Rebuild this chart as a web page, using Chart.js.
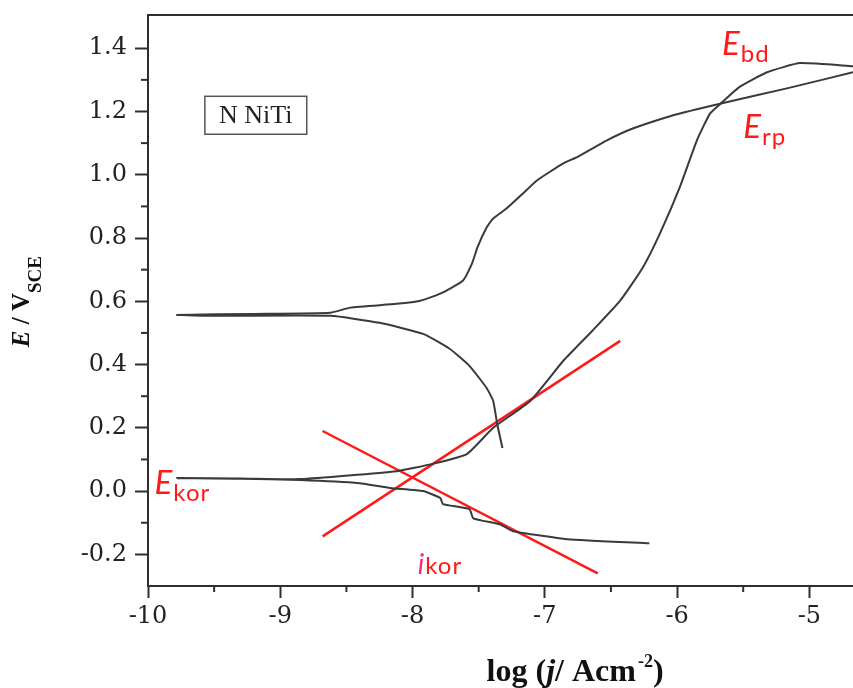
<!DOCTYPE html>
<html>
<head>
<meta charset="utf-8">
<script src="https://cdn.jsdelivr.net/npm/chart.js@4.4.1/dist/chart.umd.min.js"></script>
<style>
  html, body { margin: 0; padding: 0; background: #fff; }
</style>
</head>
<body>
<canvas id="polarization_chart" width="853" height="688"></canvas>
<script>
// 目盛り
const xTicks = [-10, -9, -8, -7, -6, -5];
const xMinorTicks = [-9.5, -8.5, -7.5, -6.5, -5.5];
const yTicks = [-0.2, 0.0, 0.2, 0.4, 0.6, 0.8, 1.0, 1.2, 1.4];
const yMinorTicks = [-0.1, 0.1, 0.3, 0.5, 0.7, 0.9, 1.1, 1.3];

// 往路（カソード側から）
const forwardLogJ = [-6.21, -6.83, -7.24, -7.34, -7.54, -7.57, -7.77, -7.79, -7.92, -8.17, -8.40, -8.85, -9.30, -9.78,
                     -9.30, -8.85, -8.12, -7.85, -7.59, -7.39, -7.11, -6.86, -6.64, -6.43, -6.26, -6.13, -5.98, -5.85,
                     -5.75, -5.66, -5.53, -5.32, -5.07, -4.67];
const forwardE    = [-0.165, -0.152, -0.127, -0.105, -0.086, -0.057, -0.041, -0.022, 0.000, 0.010, 0.025, 0.035, 0.039, 0.041,
                     0.040, 0.038, 0.063, 0.086, 0.117, 0.200, 0.285, 0.412, 0.507, 0.602, 0.706, 0.814, 0.960, 1.109,
                     1.194, 1.229, 1.277, 1.324, 1.353, 1.343];

// 復路（右端から戻る）
const reverseLogJ = [-4.67, -5.17, -5.66, -6.03, -6.33, -6.53, -6.76, -6.86, -7.06, -7.18, -7.29, -7.39, -7.44, -7.51, -7.55,
                     -7.62, -7.79, -7.94, -8.12, -8.47, -8.62, -9.20, -9.78, -9.48, -8.62, -8.25, -7.92, -7.72, -7.57,
                     -7.44, -7.39, -7.36, -7.32];
const reverseE    = [1.324, 1.273, 1.226, 1.188, 1.147, 1.109, 1.055, 1.036, 0.982, 0.935, 0.893, 0.862, 0.833, 0.770, 0.720,
                     0.665, 0.624, 0.602, 0.592, 0.580, 0.564, 0.560, 0.557, 0.554, 0.554, 0.532, 0.497, 0.450, 0.396,
                     0.326, 0.285, 0.212, 0.136];

// ターフェル直線
const tafelAnodicLogJ = [-8.68, -6.43];
const tafelAnodicE    = [-0.143, 0.475];
const tafelCathodicLogJ = [-8.68, -6.60];
const tafelCathodicE    = [0.190, -0.260];

// ラベル
const sampleLabel = 'N NiTi';
const sampleBox = { x1: -9.57, x2: -8.80, y1: 1.248, y2: 1.128 };
const redLabels = [
    { main: 'E', sub: 'bd',  x: -5.66, y: 1.378 },
    { main: 'E', sub: 'rp',  x: -5.50, y: 1.115 },
    { main: 'E', sub: 'kor', x: -9.95, y: -0.010 },
    { main: 'i', sub: 'kor', x: -7.96, y: -0.263 },
];

const toPoints = (xs, ys) => xs.map((x, i) => ({ x: x, y: ys[i] }));

const AXIS_COLOR = '#2e2e2e';
const CURVE_COLOR = '#3a3a3a';
const RED = '#ff1a1a';

// 文字を部品ごとに描く
function drawParts(ctx, parts, x, y) {
    let cx = x;
    parts.forEach(p => {
        ctx.font = p.font;
        ctx.fillStyle = p.color;
        ctx.letterSpacing = p.spacing || '0px';
        ctx.fillText(p.text, cx, y + (p.dy || 0));
        cx += ctx.measureText(p.text).width + (p.gap || 0);
    });
    ctx.letterSpacing = '0px';
}

// 補助目盛り・上枠・注釈
const decorPlugin = {
    id: 'decor',
    afterDraw(chart) {
        const ctx = chart.ctx;
        const xs = chart.scales.x;
        const ys = chart.scales.y;
        const area = chart.chartArea;
        ctx.save();

        // 上枠
        ctx.strokeStyle = AXIS_COLOR;
        ctx.lineWidth = 2;
        ctx.beginPath();
        ctx.moveTo(area.left, area.top);
        ctx.lineTo(area.right, area.top);
        ctx.stroke();

        // 補助目盛り
        xMinorTicks.forEach(v => {
            const px = xs.getPixelForValue(v);
            ctx.beginPath();
            ctx.moveTo(px, area.bottom);
            ctx.lineTo(px, area.bottom + 6);
            ctx.stroke();
        });
        yMinorTicks.forEach(v => {
            const py = ys.getPixelForValue(v);
            ctx.beginPath();
            ctx.moveTo(area.left, py);
            ctx.lineTo(area.left - 7, py);
            ctx.stroke();
        });

        // 試料名の枠
        const bx1 = xs.getPixelForValue(sampleBox.x1);
        const bx2 = xs.getPixelForValue(sampleBox.x2);
        const by1 = ys.getPixelForValue(sampleBox.y1);
        const by2 = ys.getPixelForValue(sampleBox.y2);
        ctx.lineWidth = 1.5;
        ctx.strokeStyle = '#555';
        ctx.strokeRect(bx1, by1, bx2 - bx1, by2 - by1);
        ctx.font = '26px "Liberation Serif"';
        ctx.fillStyle = '#222';
        ctx.textAlign = 'center';
        ctx.textBaseline = 'middle';
        ctx.fillText(sampleLabel, (bx1 + bx2) / 2, (by1 + by2) / 2 + 1);

        // 赤い注釈
        ctx.textAlign = 'left';
        ctx.textBaseline = 'alphabetic';
        redLabels.forEach(l => {
            const px = xs.getPixelForValue(l.x);
            const py = ys.getPixelForValue(l.y);
            const isCurrent = l.main === 'i';
            drawParts(ctx, [
                { text: l.main, font: isCurrent ? 'italic 28px Lato' : 'italic 33px Lato', color: isCurrent ? '#ff2a7a' : RED, gap: 1 },
                { text: l.sub, font: '24px Lato', color: RED, dy: isCurrent ? 0 : 7, spacing: '1px' },
            ], px, py);
        });

        // X軸タイトル
        const tx = xs.getPixelForValue(-7.44);
        drawParts(ctx, [
            { text: 'log (', font: 'bold 32px "Liberation Serif"', color: '#111' },
            { text: 'j', font: 'bold italic 32px "Liberation Serif"', color: '#111' },
            { text: '/ Acm', font: 'bold 32px "Liberation Serif"', color: '#111', gap: 2 },
            { text: '-2', font: 'bold 18px "Liberation Serif"', color: '#111', dy: -14 },
            { text: ')', font: 'bold 32px "Liberation Serif"', color: '#111' },
        ], tx, 681);

        // Y軸タイトル（回転）
        ctx.translate(29, ys.getPixelForValue(0.455));
        ctx.rotate(-Math.PI / 2);
        drawParts(ctx, [
            { text: 'E', font: 'bold italic 25px "Liberation Serif"', color: '#111' },
            { text: ' / V', font: 'bold 25px "Liberation Serif"', color: '#111' },
            { text: 'SCE', font: 'bold 19px "Liberation Serif"', color: '#111', dy: 12 },
        ], 0, 0);

        ctx.restore();
    },
};

const ctx = document.getElementById('polarization_chart').getContext('2d');
new Chart(ctx, {
    type: 'scatter',
    data: {
        datasets: [
            {
                label: 'forward',
                data: toPoints(forwardLogJ, forwardE),
                showLine: true,
                borderColor: CURVE_COLOR,
                borderWidth: 2,
                pointRadius: 0,
                tension: 0.15,
            },
            {
                label: 'reverse',
                data: toPoints(reverseLogJ, reverseE),
                showLine: true,
                borderColor: CURVE_COLOR,
                borderWidth: 2,
                pointRadius: 0,
                tension: 0.15,
            },
            {
                label: 'tafel anodic',
                data: toPoints(tafelAnodicLogJ, tafelAnodicE),
                showLine: true,
                borderColor: RED,
                borderWidth: 2.5,
                pointRadius: 0,
            },
            {
                label: 'tafel cathodic',
                data: toPoints(tafelCathodicLogJ, tafelCathodicE),
                showLine: true,
                borderColor: RED,
                borderWidth: 2.5,
                pointRadius: 0,
            },
        ],
    },
    options: {
        responsive: false,
        animation: false,
        layout: { padding: { top: 15, right: 0, bottom: 0, left: 0 } },
        plugins: {
            legend: { display: false },
            tooltip: { enabled: false },
        },
        scales: {
            x: {
                type: 'linear',
                min: -10,
                max: -4.67,
                afterBuildTicks: (scale) => { scale.ticks = xTicks.map(v => ({ value: v })); },
                afterFit: (scale) => {
                    scale.height = 102;
                    scale.paddingLeft = 0;
                    scale.paddingRight = 0;
                },
                grid: { drawOnChartArea: false, tickLength: 12, tickColor: AXIS_COLOR, tickWidth: 2 },
                border: { color: AXIS_COLOR, width: 2 },
                ticks: {
                    color: '#222',
                    padding: 4,
                    maxRotation: 0,
                    font: { family: 'DejaVu Serif', size: 24 },
                    callback: (v) => String(v),
                },
            },
            y: {
                type: 'linear',
                min: -0.3,
                max: 1.505,
                afterBuildTicks: (scale) => { scale.ticks = yTicks.map(v => ({ value: v })); },
                afterFit: (scale) => {
                    scale.width = 148;
                    scale.paddingTop = 0;
                    scale.paddingBottom = 0;
                },
                grid: { drawOnChartArea: false, tickLength: 13, tickColor: AXIS_COLOR, tickWidth: 2 },
                border: { color: AXIS_COLOR, width: 2 },
                ticks: {
                    color: '#222',
                    padding: 8,
                    font: { family: 'DejaVu Serif', size: 24 },
                    callback: (v) => v.toFixed(1),
                },
            },
        },
    },
    plugins: [decorPlugin],
});
</script>
</body>
</html>
